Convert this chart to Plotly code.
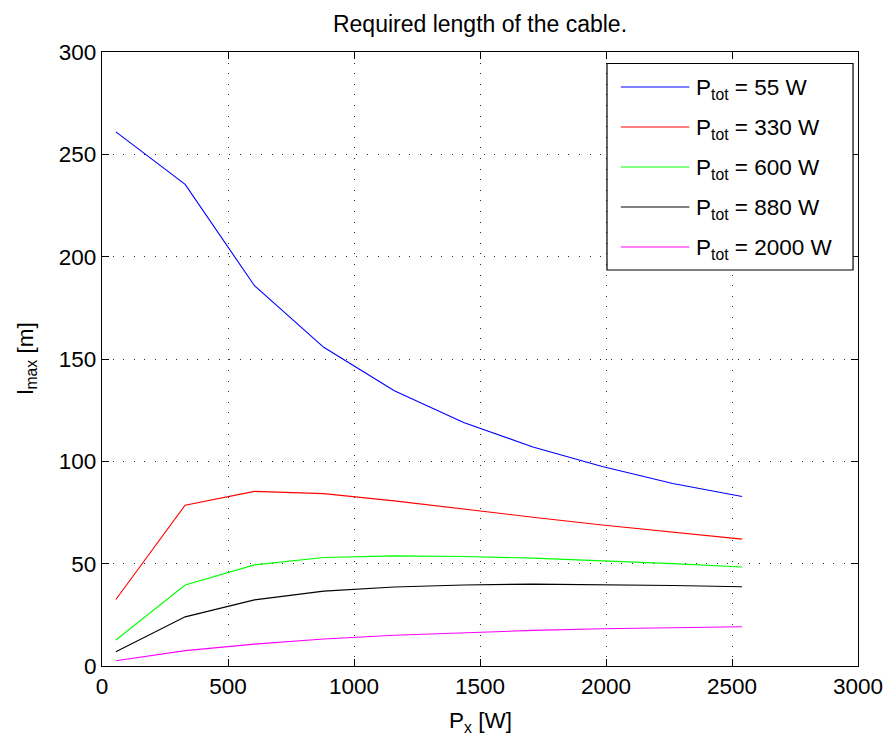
import plotly.graph_objects as go

# Power P_x [W] at which each cable length is evaluated
p_x = [55, 330, 605, 880, 1160, 1435, 1710, 1985, 2265, 2540]

# Maximum cable length l_max [m] for each total power
l_55w = [261.0, 235.3, 185.8, 155.7, 134.5, 119.0, 107.0, 97.5, 89.2, 82.8]
l_330w = [32.5, 78.6, 85.3, 84.2, 80.7, 76.6, 72.7, 68.9, 65.3, 62.0]
l_600w = [12.7, 39.6, 49.4, 53.0, 53.8, 53.5, 52.7, 51.5, 50.0, 48.4]
l_880w = [7.0, 24.0, 32.3, 36.6, 38.6, 39.6, 40.0, 39.8, 39.3, 38.7]
l_2000w = [2.6, 7.5, 10.7, 13.2, 15.0, 16.3, 17.4, 18.2, 18.8, 19.2]

series = [l_55w, l_330w, l_600w, l_880w, l_2000w]
labels = ["P<sub>tot</sub> = 55 W", "P<sub>tot</sub> = 330 W",
          "P<sub>tot</sub> = 600 W", "P<sub>tot</sub> = 880 W",
          "P<sub>tot</sub> = 2000 W"]
colors = ["#0000ff", "#ff0000", "#00ff00", "#000000", "#ff00ff"]

x_ticks = [0, 500, 1000, 1500, 2000, 2500, 3000]
y_ticks = [0, 50, 100, 150, 200, 250, 300]

W, H = 895, 738
ML, MR, MT, MB = 102, 31, 52, 72
PW, PH = W - ML - MR, H - MT - MB
FONT = "Liberation Sans, Arial, Helvetica, sans-serif"
FS = 22.5


def fx(px):
    return (px - ML) / PW


def fy(py):
    return (H - MB - py) / PH


fig = go.Figure()
for vals, name, color in zip(series, labels, colors):
    fig.add_trace(go.Scatter(x=p_x, y=vals, mode="lines", name=name,
                             line=dict(color=color, width=1.1),
                             showlegend=False))

axis_common = dict(
    showline=True, linecolor="black", linewidth=1.2, mirror="ticks",
    ticks="inside", ticklen=7, tickwidth=1, tickcolor="black",
    showgrid=True, gridcolor="#2a2a2a", gridwidth=1, griddash="1px,9.6px",
    zeroline=False, tickfont=dict(family=FONT, size=FS, color="black"),
)
fig.update_xaxes(range=[0, 3000], tickvals=x_ticks, **axis_common)
fig.update_yaxes(range=[0, 300], tickvals=y_ticks, **axis_common)

# Legend box drawn in the upper-right corner of the axes
shapes = [dict(type="rect", xref="paper", yref="paper",
               x0=fx(611), x1=fx(859), y0=fy(270), y1=fy(63.5),
               line=dict(color="black", width=1.2), fillcolor="white",
               layer="above")]
annotations = []
for i, (name, color) in enumerate(zip(labels, colors)):
    yy = 87 + 40 * i
    shapes.append(dict(type="line", xref="paper", yref="paper",
                       x0=fx(625), x1=fx(694), y0=fy(yy), y1=fy(yy),
                       line=dict(color=color, width=1.1), layer="above"))
    annotations.append(dict(xref="paper", yref="paper", x=fx(699), y=fy(yy + 2),
                            text=name, showarrow=False, xanchor="left",
                            yanchor="middle",
                            font=dict(family=FONT, size=FS, color="black")))

# Axis labels
annotations.append(dict(xref="paper", yref="paper", x=0.5, y=fy(722),
                        text="P<sub>x</sub> [W]", showarrow=False,
                        xanchor="center", yanchor="middle",
                        font=dict(family=FONT, size=FS, color="black")))
annotations.append(dict(xref="paper", yref="paper", x=fx(26), y=0.5,
                        text="l<sub>max</sub> [m]", showarrow=False,
                        textangle=-90, xanchor="center", yanchor="middle",
                        font=dict(family=FONT, size=FS, color="black")))

fig.update_layout(
    width=W, height=H,
    margin=dict(l=ML, r=MR, t=MT, b=MB, pad=0),
    paper_bgcolor="white", plot_bgcolor="white",
    title=dict(text="Required length of the cable.", x=0.5, xref="paper",
               xanchor="center", y=1 - 24 / H, yref="container",
               yanchor="middle",
               font=dict(family=FONT, size=23, color="black")),
    shapes=shapes, annotations=annotations,
)

fig.write_html("out.html")
